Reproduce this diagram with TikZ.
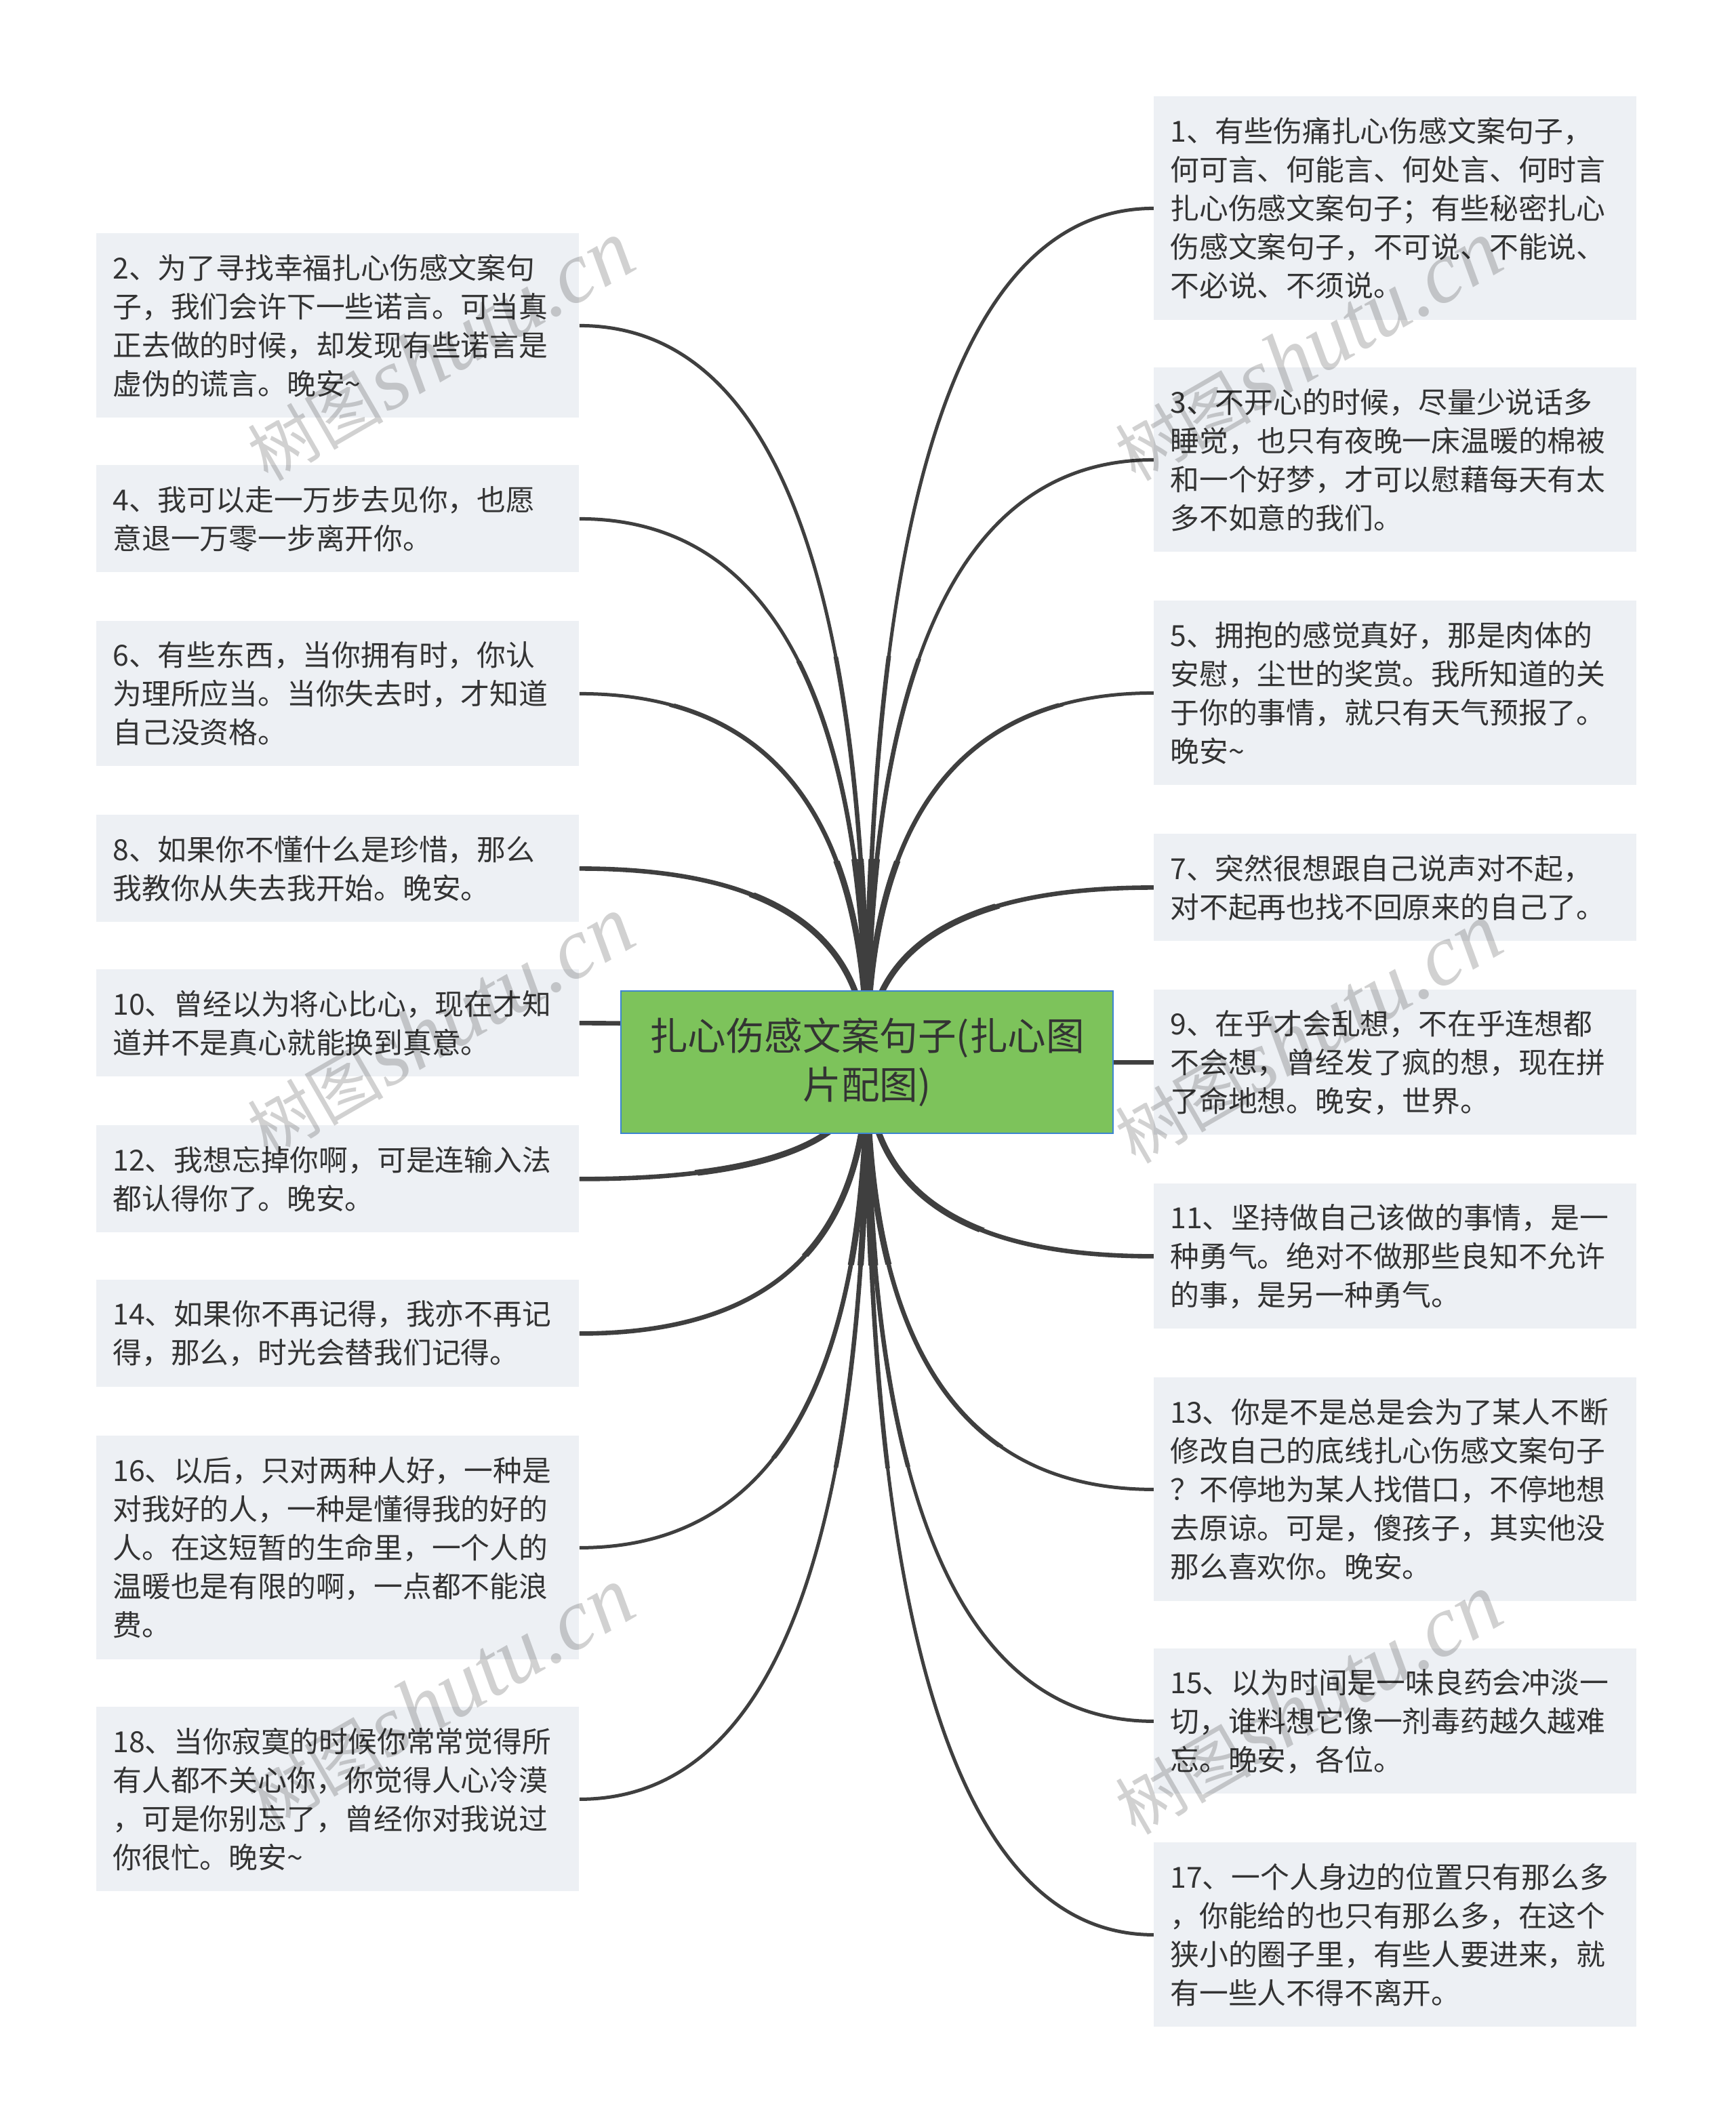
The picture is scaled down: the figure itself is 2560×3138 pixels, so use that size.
\documentclass[tikz,border=0pt]{standalone}
\usepackage{fontspec}
\setmainfont{Noto Sans CJK SC}
\newfontfamily\wmlatin{Liberation Serif}
\usetikzlibrary{calc}
\definecolor{boxfill}{HTML}{EDF0F4}
\definecolor{txt}{HTML}{333333}
\definecolor{linec}{HTML}{3F3F3F}
\definecolor{rootfill}{HTML}{7DC35B}
\definecolor{rootline}{HTML}{3D85D0}
\pgfdeclarelayer{bg}
\pgfdeclarelayer{fg}
\pgfsetlayers{bg,main,fg}
\tikzset{
  leaf/.style={rectangle, fill=boxfill, text=txt, anchor=north west,
    minimum width=356pt, text width=332pt, inner xsep=12pt, inner ysep=0pt,
    align=left, font=\fontsize{21.4pt}{28.5pt}\selectfont},
  rootbox/.style={rectangle, fill=rootfill, draw=rootline, line width=1pt, text=txt,
    minimum width=363pt, minimum height=105pt, inner sep=0pt, align=center,
    font=\fontsize{28.3pt}{36pt}\selectfont},
  wm/.style={text=black, opacity=0.18, rotate=30, inner sep=0pt}
}
\newcommand\leafconn[2]{\draw[linec, line width=#2] (c.center) .. controls ($(c.center)!0.6667!(c.center |- #1)$) and ($(#1)!0.6667!(c.center |- #1)$) .. (#1);}
\newcommand\allconns[1]{\foreach \tgt in {b1.west,b3.west,b5.west,b7.west,b9.west,b11.west,b13.west,b15.west,b17.west,b2.east,b4.east,b6.east,b8.east,b10.east,b12.east,b14.east,b16.east,b18.east}{\leafconn{\tgt}{#1}}}
\newcommand\wmtext{{\fontsize{50pt}{50pt}\selectfont 树图}\,{\fontsize{64pt}{64pt}\selectfont\wmlatin\itshape shutu.cn}}
\begin{document}
\begin{tikzpicture}[x=0.5pt,y=-0.5pt]
\useasboundingbox (0,0) rectangle (2560,3138);

\node[rootbox] (c) at (1279,1567) {扎心伤感文案句子(扎心图\\片配图)};

\node[leaf, minimum height=136pt] (b2) at (142,344) {2、为了寻找幸福扎心伤感文案句\\子，我们会许下一些诺言。可当真\\正去做的时候，却发现有些诺言是\\虚伪的谎言。晚安\char"7E};
\node[leaf, minimum height=79pt] (b4) at (142,686) {4、我可以走一万步去见你，也愿\\意退一万零一步离开你。};
\node[leaf, minimum height=107pt] (b6) at (142,916) {6、有些东西，当你拥有时，你认\\为理所应当。当你失去时，才知道\\自己没资格。};
\node[leaf, minimum height=79pt] (b8) at (142,1202) {8、如果你不懂什么是珍惜，那么\\我教你从失去我开始。晚安。};
\node[leaf, minimum height=79pt] (b10) at (142,1430) {10、曾经以为将心比心，现在才知\\道并不是真心就能换到真意。};
\node[leaf, minimum height=79pt] (b12) at (142,1660) {12、我想忘掉你啊，可是连输入法\\都认得你了。晚安。};
\node[leaf, minimum height=79pt] (b14) at (142,1888) {14、如果你不再记得，我亦不再记\\得，那么，时光会替我们记得。};
\node[leaf, minimum height=165pt] (b16) at (142,2118) {16、以后，只对两种人好，一种是\\对我好的人，一种是懂得我的好的\\人。在这短暂的生命里，一个人的\\温暖也是有限的啊，一点都不能浪\\费。};
\node[leaf, minimum height=136pt] (b18) at (142,2518) {18、当你寂寞的时候你常常觉得所\\有人都不关心你，你觉得人心冷漠\\，可是你别忘了，曾经你对我说过\\你很忙。晚安\char"7E};

\node[leaf, minimum height=165pt] (b1) at (1702,142) {1、有些伤痛扎心伤感文案句子，\\何可言、何能言、何处言、何时言\\扎心伤感文案句子；有些秘密扎心\\伤感文案句子，不可说、不能说、\\不必说、不须说。};
\node[leaf, minimum height=136pt] (b3) at (1702,542) {3、不开心的时候，尽量少说话多\\睡觉，也只有夜晚一床温暖的棉被\\和一个好梦，才可以慰藉每天有太\\多不如意的我们。};
\node[leaf, minimum height=136pt] (b5) at (1702,886) {5、拥抱的感觉真好，那是肉体的\\安慰，尘世的奖赏。我所知道的关\\于你的事情，就只有天气预报了。\\晚安\char"7E};
\node[leaf, minimum height=79pt] (b7) at (1702,1230) {7、突然很想跟自己说声对不起，\\对不起再也找不回原来的自己了。};
\node[leaf, minimum height=107pt] (b9) at (1702,1460) {9、在乎才会乱想，不在乎连想都\\不会想，曾经发了疯的想，现在拼\\了命地想。晚安，世界。};
\node[leaf, minimum height=107pt] (b11) at (1702,1746) {11、坚持做自己该做的事情，是一\\种勇气。绝对不做那些良知不允许\\的事，是另一种勇气。};
\node[leaf, minimum height=165pt] (b13) at (1702,2032) {13、你是不是总是会为了某人不断\\修改自己的底线扎心伤感文案句子\\？不停地为某人找借口，不停地想\\去原谅。可是，傻孩子，其实他没\\那么喜欢你。晚安。};
\node[leaf, minimum height=107pt] (b15) at (1702,2432) {15、以为时间是一味良药会冲淡一\\切，谁料想它像一剂毒药越久越难\\忘。晚安，各位。};
\node[leaf, minimum height=136pt] (b17) at (1702,2718) {17、一个人身边的位置只有那么多\\，你能给的也只有那么多，在这个\\狭小的圈子里，有些人要进来，就\\有一些人不得不离开。};

\begin{pgfonlayer}{bg}
  \fill[white] (0,0) rectangle (2560,3138);
  \allconns{2.5pt}
  \begin{scope}
    \clip (c.center) circle[radius=300pt];
    \allconns{3.3pt}
  \end{scope}
  \begin{scope}
    \clip (c.center) circle[radius=150pt];
    \allconns{4.5pt}
  \end{scope}
\end{pgfonlayer}

\begin{pgfonlayer}{fg}
  \node[wm] (w1) at (650,518) {\wmtext};
  \node[wm] (w2) at (1930,518) {\wmtext};
  \node[wm] (w3) at (650,1515) {\wmtext};
  \node[wm] (w4) at (1930,1525) {\wmtext};
  \node[wm] (w5) at (650,2505) {\wmtext};
  \node[wm] (w6) at (1930,2515) {\wmtext};
\end{pgfonlayer}
\end{tikzpicture}
\end{document}
